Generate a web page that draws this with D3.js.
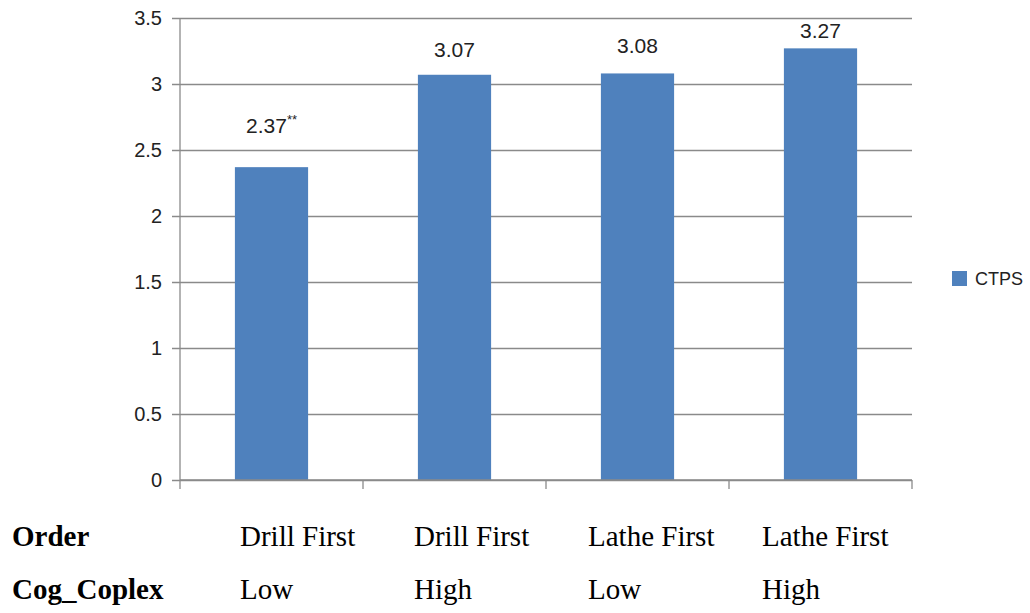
<!DOCTYPE html>
<html>
<head>
<meta charset="utf-8">
<script src="https://cdn.jsdelivr.net/npm/d3@7"></script>
<style>
  html, body { margin: 0; padding: 0; background: #fff; }
  svg { display: block; }
</style>
</head>
<body>
<svg id="chart" width="1030" height="613"></svg>
<script>
// Mean CTPS score per condition
const categories = ["Drill First / Low", "Drill First / High", "Lathe First / Low", "Lathe First / High"];
const ctps = [2.37, 3.07, 3.08, 3.27];
const valueLabels = ["2.37", "3.07", "3.08", "3.27"];
const significance = ["**", "", "", ""];
const orderRow = ["Drill First", "Drill First", "Lathe First", "Lathe First"];
const complexityRow = ["Low", "High", "Low", "High"];
const yTicks = [0, 0.5, 1, 1.5, 2, 2.5, 3, 3.5];
const seriesName = "CTPS";

// Layout
const plot = { left: 180, right: 912, top: 18, bottom: 480 };
const labelLift = [34, 18, 20, 10];   // gap between bar top and its value label
const barColor = "#4F81BD";
const gridColor = "#8a8a8a";
const sans = "'Liberation Sans', Arial, sans-serif";
const serif = "'Liberation Serif', 'Times New Roman', serif";

const svg = d3.select("#chart");

const y = d3.scaleLinear().domain([0, 3.5]).range([plot.bottom, plot.top]);
const x = d3.scaleBand().domain(categories).range([plot.left, plot.right])
  .paddingInner(0.6).paddingOuter(0.3);

// Horizontal gridlines with their tick marks
const yAxis = d3.axisLeft(y).tickValues(yTicks).tickFormat(d3.format("~g"))
  .tickSize(-(plot.right - plot.left)).tickSizeOuter(0).tickPadding(18);
const yg = svg.append("g").attr("transform", `translate(${plot.left},0)`).call(yAxis);
yg.select(".domain").remove();
yg.selectAll(".tick line").attr("stroke", gridColor).attr("stroke-width", 1.3)
  .attr("x1", -8);
yg.selectAll(".tick text").attr("font-family", sans).attr("font-size", 20)
  .attr("fill", "#222");

// Bars
svg.append("g").selectAll("rect").data(categories).join("rect")
  .attr("x", d => x(d))
  .attr("width", x.bandwidth())
  .attr("y", (d, i) => y(ctps[i]))
  .attr("height", (d, i) => y(0) - y(ctps[i]))
  .attr("fill", barColor);

// Vertical axis line and category boundary ticks
svg.append("line").attr("x1", plot.left).attr("x2", plot.left)
  .attr("y1", plot.top).attr("y2", plot.bottom + 9)
  .attr("stroke", gridColor).attr("stroke-width", 1.3);
svg.append("line").attr("x1", plot.left).attr("x2", plot.right)
  .attr("y1", y(0)).attr("y2", y(0))
  .attr("stroke", gridColor).attr("stroke-width", 1.3);
const boundaries = d3.range(categories.length + 1).map(i => plot.left + i * x.step());
svg.append("g").selectAll("line").data(boundaries.slice(1)).join("line")
  .attr("x1", d => d).attr("x2", d => d)
  .attr("y1", y(0)).attr("y2", y(0) + 9)
  .attr("stroke", gridColor).attr("stroke-width", 1.3);

// Value labels
const labels = svg.append("g").selectAll("text").data(categories).join("text")
  .attr("x", d => x(d) + x.bandwidth() / 2)
  .attr("y", (d, i) => y(ctps[i]) - labelLift[i])
  .attr("text-anchor", "middle")
  .attr("font-family", sans).attr("font-size", 21).attr("fill", "#222");
labels.append("tspan").text((d, i) => valueLabels[i]);
labels.append("tspan").text((d, i) => significance[i])
  .attr("font-size", 13).attr("dy", -9);

// Legend
const legend = svg.append("g").attr("transform", "translate(952,271)");
legend.append("rect").attr("width", 15).attr("height", 15).attr("fill", barColor);
legend.append("text").attr("x", 23).attr("y", 14)
  .attr("font-family", sans).attr("font-size", 18).attr("fill", "#222")
  .text(seriesName);

// Condition table under the axis
const col = d3.scaleBand().domain(categories).range([240, 240 + 4 * 174]);
const rows = [
  { title: "Order", cells: orderRow, baseline: 546 },
  { title: "Cog_Coplex", cells: complexityRow, baseline: 599 }
];
rows.forEach(r => {
  svg.append("text").attr("x", 12).attr("y", r.baseline)
    .attr("font-family", serif).attr("font-size", 29).attr("font-weight", "bold")
    .attr("fill", "#000").text(r.title);
  svg.append("g").selectAll("text").data(categories).join("text")
    .attr("x", d => col(d)).attr("y", r.baseline)
    .attr("font-family", serif).attr("font-size", 29).attr("fill", "#000")
    .text((d, i) => r.cells[i]);
});
</script>
</body>
</html>
